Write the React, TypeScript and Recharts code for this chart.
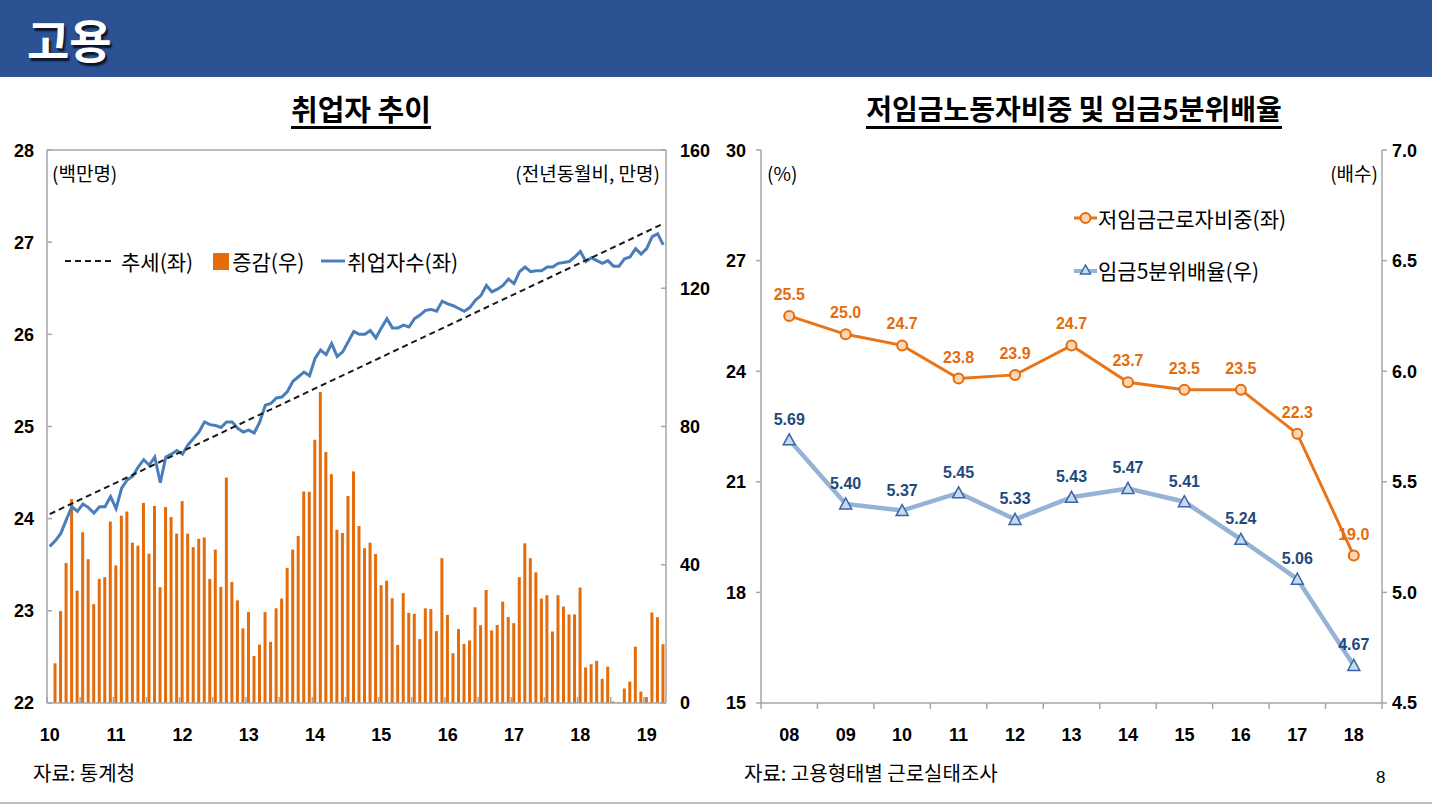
import React from 'react';
import { ComposedChart, Bar, Line, XAxis, YAxis, ReferenceLine, LabelList } from 'recharts';

const KR = '"Noto Sans CJK KR", "Noto Sans", sans-serif';
const NUM = '"Liberation Sans Narrow", "Arial Narrow", "Liberation Sans", sans-serif';
const AXIS = '#A6A6A6';

// ---- left chart: employment (monthly, 2010.01 ~ 2019.04)
const yearLabels = ['10', '11', '12', '13', '14', '15', '16', '17', '18', '19'];
const monthKeys: string[] = [];
yearLabels.forEach((y) => {
  for (let m = 1; m <= 12; m++) monthKeys.push(`20${y}.${m}`);
});
monthKeys.length = 112;

// 증감 (전년동월비, 만명)
const employedChange = [
  -1, 11.5, 26.6, 40.5, 59.0, 32.5, 49.4, 41.6, 28.6, 35.9, 36.4, 52.5,
  39.8, 54.2, 55.4, 46.4, 45.5, 57.9, 43.2, 57.0, 33.5, 56.7, 53.8, 49.0,
  58.4, 49.0, 45.1, 47.5, 47.9, 35.9, 44.4, 33.6, 65.2, 35.0, 29.7, 21.6,
  26.3, 13.6, 16.9, 26.3, 17.7, 27.4, 30.2, 39.1, 44.4, 48.3, 61.2, 61.1,
  76.2, 90.0, 72.6, 66.2, 50.1, 49.2, 59.9, 67.0, 51.2, 44.8, 46.4, 43.1,
  34.1, 35.4, 30.3, 16.8, 31.8, 26.1, 25.8, 18.5, 27.4, 27.2, 20.8, 41.9,
  25.5, 14.4, 21.4, 17.1, 18.1, 27.7, 22.5, 32.7, 21.0, 22.6, 29.3, 24.9,
  23.1, 36.4, 46.2, 41.9, 37.8, 30.2, 31.2, 20.7, 31.2, 27.9, 25.6, 25.6,
  33.4, 10.3, 11.2, 12.2, 7.0, 10.5, 0.4, 0.3, 4.2, 6.2, 16.3, 3.3,
  1.7, 26.2, 24.8, 17.0,
];

// 취업자수 (백만명)
const employed = [
  23.70, 23.76, 23.84, 23.99, 24.13, 24.08, 24.16, 24.12, 24.06, 24.13, 24.13, 24.24,
  24.11, 24.33, 24.42, 24.46, 24.56, 24.64, 24.58, 24.67, 24.39, 24.67, 24.70, 24.74,
  24.70, 24.80, 24.87, 24.94, 25.05, 25.02, 25.01, 24.99, 25.05, 25.05, 24.98, 24.94,
  24.96, 24.93, 25.05, 25.23, 25.25, 25.31, 25.32, 25.38, 25.49, 25.54, 25.59, 25.55,
  25.74, 25.83, 25.78, 25.90, 25.76, 25.81, 25.92, 26.03, 26.00, 26.00, 26.04, 25.96,
  26.07, 26.17, 26.07, 26.07, 26.10, 26.08, 26.17, 26.21, 26.26, 26.27, 26.25, 26.36,
  26.33, 26.31, 26.28, 26.25, 26.29, 26.37, 26.42, 26.53, 26.46, 26.49, 26.53, 26.60,
  26.55, 26.68, 26.73, 26.68, 26.69, 26.69, 26.73, 26.73, 26.77, 26.78, 26.79, 26.84,
  26.90, 26.79, 26.83, 26.80, 26.77, 26.80, 26.74, 26.74, 26.82, 26.84, 26.93, 26.87,
  26.93, 27.06, 27.09, 26.97,
];

// 추세 (start / end of the straight trend line)
const trendStart = 24.05;
const trendEnd = 27.2;

const leftTicks = [22, 23, 24, 25, 26, 27, 28];
const rightTicks = [0, 40, 80, 120, 160];

const employmentData = monthKeys.map((month, i) => ({
  month,
  change: employedChange[i],
  employed: employed[i],
  trend: i === 0 ? trendStart : i === monthKeys.length - 1 ? trendEnd : null,
}));

// ---- right chart: low wage share & wage quintile ratio
const wageYears = ['08', '09', '10', '11', '12', '13', '14', '15', '16', '17', '18'];
const lowWageShare = [25.5, 25.0, 24.7, 23.8, 23.9, 24.7, 23.7, 23.5, 23.5, 22.3, 19.0];
const quintileRatio = [5.69, 5.40, 5.37, 5.45, 5.33, 5.43, 5.47, 5.41, 5.24, 5.06, 4.67];
const shareTicks = [15, 18, 21, 24, 27, 30];
const ratioTicks = [4.5, 5.0, 5.5, 6.0, 6.5, 7.0];

const wageData = wageYears.map((year, i) => ({
  year,
  share: lowWageShare[i],
  ratio: quintileRatio[i],
}));

const numTick = { fontSize: 18, fontWeight: 700, fill: '#000', fontFamily: NUM };

const MonthTick = (props: any) => {
  const { x, y, payload, index } = props;
  if (index % 6 !== 0) return null;
  const edge = x - (payload.offset || 0);
  return (
    <g>
      <line x1={edge} x2={edge} y1={y} y2={y - 6} stroke={AXIS} strokeWidth={1.5} />
      {index % 12 === 0 && (
        <text x={x} y={y + 38} textAnchor="middle" {...numTick}>
          {yearLabels[index / 12]}
        </text>
      )}
    </g>
  );
};

const YearTick = (props: any) => {
  const { x, y, payload, index } = props;
  const off = payload.offset || 0;
  return (
    <g>
      <line x1={x - off} x2={x - off} y1={y} y2={y + 6} stroke={AXIS} strokeWidth={1.5} />
      {index === wageYears.length - 1 && (
        <line x1={x + off} x2={x + off} y1={y} y2={y + 6} stroke={AXIS} strokeWidth={1.5} />
      )}
      <text x={x} y={y + 38} textAnchor="middle" {...numTick}>
        {payload.value}
      </text>
    </g>
  );
};

const Triangle = (props: any) => {
  const { cx, cy } = props;
  if (cx == null || cy == null) return null;
  return (
    <polygon
      points={`${cx},${cy - 6} ${cx - 6},${cy + 5} ${cx + 6},${cy + 5}`}
      fill="#C5D9F1"
      stroke="#3B64A3"
      strokeWidth={1.5}
    />
  );
};

const abs = (style: React.CSSProperties): React.CSSProperties => ({ position: 'absolute', ...style });

export default function App() {
  return (
    <div style={abs({ left: 0, top: 0, width: 1432, height: 806, background: '#fff', fontFamily: KR, color: '#000', overflow: 'hidden' })}>
      {/* header */}
      <div style={abs({ left: 0, top: 0, width: 1432, height: 77, background: '#2C5294' })} />
      <div style={abs({ left: 27, top: 8, fontSize: 46, fontWeight: 700, color: '#fff', lineHeight: '60px', textShadow: '2px 3px 2px rgba(0,0,0,0.75)' })}>
        고용
      </div>

      {/* titles */}
      <div style={abs({ left: 0, width: 722, top: 91, textAlign: 'center' })}>
        <span style={{ fontSize: 29, fontWeight: 700, lineHeight: '35px', borderBottom: '3px solid #000', display: 'inline-block' }}>
          취업자 추이
        </span>
      </div>
      <div style={abs({ left: 720, width: 708, top: 91, textAlign: 'center' })}>
        <span style={{ fontSize: 28, fontWeight: 700, lineHeight: '35px', borderBottom: '3px solid #000', display: 'inline-block' }}>
          저임금노동자비중 및 임금5분위배율
        </span>
      </div>

      {/* left chart */}
      <div style={abs({ left: 0, top: 140 })}>
        <ComposedChart width={720} height={620} data={employmentData} margin={{ top: 10, right: 4, bottom: 27, left: 7 }}>
          <XAxis
            dataKey="month"
            interval={0}
            tickLine={false}
            tickSize={0}
            tickMargin={0}
            height={30}
            axisLine={{ stroke: AXIS, strokeWidth: 1.5 }}
            tick={<MonthTick />}
          />
          <YAxis
            yAxisId="left"
            domain={[22, 28]}
            ticks={leftTicks}
            width={40}
            tickSize={-5}
            tickMargin={18}
            axisLine={{ stroke: AXIS, strokeWidth: 1.5 }}
            tickLine={{ stroke: AXIS, strokeWidth: 1.5 }}
            tick={numTick}
          />
          <YAxis
            yAxisId="right"
            orientation="right"
            domain={[0, 160]}
            ticks={rightTicks}
            allowDataOverflow
            width={50}
            tickSize={-5}
            tickMargin={19}
            axisLine={{ stroke: AXIS, strokeWidth: 1.5 }}
            tickLine={{ stroke: AXIS, strokeWidth: 1.5 }}
            tick={numTick}
          />
          <ReferenceLine yAxisId="left" y={28} stroke={AXIS} strokeWidth={1.5} />
          <Bar yAxisId="right" dataKey="change" fill="#E46C0A" barSize={3} isAnimationActive={false} />
          <Line yAxisId="left" dataKey="employed" stroke="#4A7EBB" strokeWidth={3} dot={false} isAnimationActive={false} />
          <Line yAxisId="left" dataKey="trend" stroke="#1a1a1a" strokeWidth={2} strokeDasharray="6 4" connectNulls dot={false} isAnimationActive={false} />
        </ComposedChart>
      </div>

      <div style={abs({ left: 52, top: 159, fontSize: 19, lineHeight: '28px' })}>(백만명)</div>
      <div style={abs({ right: 772, top: 159, fontSize: 19, lineHeight: '28px' })}>(전년동월비, 만명)</div>

      {/* left legend */}
      <div style={abs({ left: 64, top: 245, display: 'flex', alignItems: 'center', fontSize: 21, lineHeight: '32px', whiteSpace: 'nowrap' })}>
        <svg width={52} height={10}>
          <line x1={1} x2={51} y1={5} y2={5} stroke="#1a1a1a" strokeWidth={2} strokeDasharray="6 4" />
        </svg>
        <span style={{ marginLeft: 5 }}>추세(좌)</span>
        <span style={{ display: 'inline-block', width: 16, height: 17, background: '#E46C0A', marginLeft: 20 }} />
        <span style={{ marginLeft: 3 }}>증감(우)</span>
        <svg width={26} height={10} style={{ marginLeft: 16 }}>
          <line x1={1} x2={25} y1={5} y2={5} stroke="#4A7EBB" strokeWidth={3} />
        </svg>
        <span style={{ marginLeft: 1 }}>취업자수(좌)</span>
      </div>

      {/* right chart */}
      <div style={abs({ left: 700, top: 140 })}>
        <ComposedChart width={732} height={620} data={wageData} margin={{ top: 10, right: 5, bottom: 27, left: 21 }}>
          <XAxis
            dataKey="year"
            scale="band"
            interval={0}
            tickLine={false}
            tickSize={0}
            tickMargin={0}
            height={30}
            axisLine={{ stroke: AXIS, strokeWidth: 1.5 }}
            tick={<YearTick />}
          />
          <YAxis
            yAxisId="share"
            domain={[15, 30]}
            ticks={shareTicks}
            width={40}
            tickSize={5}
            tickMargin={10}
            axisLine={{ stroke: AXIS, strokeWidth: 1.5 }}
            tickLine={{ stroke: AXIS, strokeWidth: 1.5 }}
            tick={numTick}
          />
          <YAxis
            yAxisId="ratio"
            orientation="right"
            domain={[4.5, 7]}
            ticks={ratioTicks}
            width={45}
            tickSize={5}
            tickMargin={5}
            tickFormatter={(v: number) => v.toFixed(1)}
            axisLine={{ stroke: AXIS, strokeWidth: 1.5 }}
            tickLine={{ stroke: AXIS, strokeWidth: 1.5 }}
            tick={numTick}
          />
          <Line
            yAxisId="ratio"
            dataKey="ratio"
            stroke="#95B3D7"
            strokeWidth={4.5}
            dot={<Triangle />}
            isAnimationActive={false}
          >
            <LabelList
              dataKey="ratio"
              position="top"
              offset={15}
              formatter={(v: any) => Number(v).toFixed(2)}
              style={{ fill: '#1F497D', fontSize: 16, fontWeight: 700, fontFamily: NUM }}
            />
          </Line>
          <Line
            yAxisId="share"
            dataKey="share"
            stroke="#E8751A"
            strokeWidth={3}
            dot={{ r: 5, fill: '#FCD5B4', stroke: '#E46C0A', strokeWidth: 2 }}
            isAnimationActive={false}
          >
            <LabelList
              dataKey="share"
              position="top"
              offset={16}
              formatter={(v: any) => Number(v).toFixed(1)}
              style={{ fill: '#E46C0A', fontSize: 16, fontWeight: 700, fontFamily: NUM }}
            />
          </Line>
        </ComposedChart>
      </div>

      <div style={abs({ left: 767, top: 159, fontSize: 19, lineHeight: '28px' })}>(%)</div>
      <div style={abs({ right: 54, top: 159, fontSize: 19, lineHeight: '28px' })}>(배수)</div>

      {/* right legend */}
      <div style={abs({ left: 1074, top: 202, fontSize: 21, lineHeight: '32px', whiteSpace: 'nowrap' })}>
        <div style={{ display: 'flex', alignItems: 'center' }}>
          <svg width={23} height={14}>
            <line x1={0} x2={23} y1={7} y2={7} stroke="#E8751A" strokeWidth={3} />
            <circle cx={11.5} cy={7} r={5} fill="#FCD5B4" stroke="#E46C0A" strokeWidth={2} />
          </svg>
          <span style={{ marginLeft: 1 }}>저임금근로자비중(좌)</span>
        </div>
        <div style={{ display: 'flex', alignItems: 'center', marginTop: 20 }}>
          <svg width={23} height={14}>
            <line x1={0} x2={23} y1={8} y2={8} stroke="#95B3D7" strokeWidth={4} />
            <polygon points="11.5,2 6.5,11 16.5,11" fill="#C5D9F1" stroke="#3B64A3" strokeWidth={1.5} />
          </svg>
          <span style={{ marginLeft: 1 }}>임금5분위배율(우)</span>
        </div>
      </div>

      {/* footnotes */}
      <div style={abs({ left: 33, top: 759, fontSize: 20, lineHeight: '28px' })}>자료: 통계청</div>
      <div style={abs({ left: 744, top: 759, fontSize: 20, lineHeight: '28px' })}>자료: 고용형태별 근로실태조사</div>
      <div style={abs({ left: 1376, top: 766, fontSize: 17, lineHeight: '24px', fontFamily: NUM })}>8</div>
      <div style={abs({ left: 0, top: 802, width: 1432, height: 2, background: '#BFBFBF' })} />
    </div>
  );
}
